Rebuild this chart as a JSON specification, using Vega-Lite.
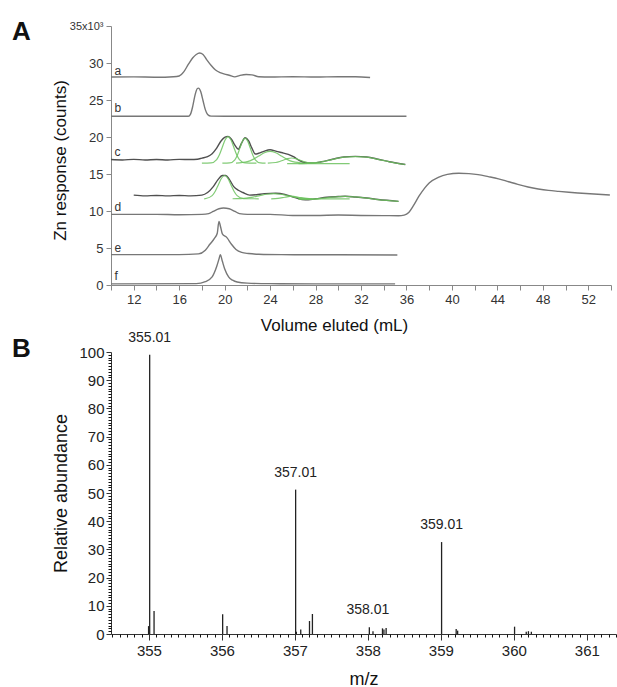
{
  "$schema": "https://vega.github.io/schema/vega-lite/v6.json",
  "padding": {"left": 12, "top": 19, "right": 0, "bottom": 0},
  "bounds": "flush",
  "spacing": 67,
  "config": {"font": "Liberation Sans", "view": {"stroke": null}, "axis": {"grid": false}},
  "datasets": {
    "traces": [
      {"series":"a","x":10,"y":28100},{"series":"a","x":12,"y":28120},{"series":"a","x":14,"y":28080},{"series":"a","x":15.5,"y":28150},{"series":"a","x":16.0,"y":28250},{"series":"a","x":16.4,"y":28800},{"series":"a","x":16.8,"y":29800},{"series":"a","x":17.2,"y":30700},{"series":"a","x":17.5,"y":31150},{"series":"a","x":17.8,"y":31350},{"series":"a","x":18.1,"y":31150},{"series":"a","x":18.4,"y":30500},{"series":"a","x":18.8,"y":29700},{"series":"a","x":19.2,"y":29050},{"series":"a","x":19.6,"y":28700},{"series":"a","x":20.0,"y":28500},{"series":"a","x":20.4,"y":28350},{"series":"a","x":20.9,"y":28130},{"series":"a","x":21.3,"y":28300},{"series":"a","x":21.9,"y":28450},{"series":"a","x":22.4,"y":28400},{"series":"a","x":23.0,"y":28150},{"series":"a","x":24,"y":28100},{"series":"a","x":26,"y":28150},{"series":"a","x":28,"y":28100},{"series":"a","x":30,"y":28150},{"series":"a","x":31.5,"y":28150},{"series":"a","x":32.8,"y":28050},
      {"series":"b","x":10,"y":22800},{"series":"b","x":16.8,"y":22800},{"series":"b","x":17.0,"y":23100},{"series":"b","x":17.2,"y":24200},{"series":"b","x":17.4,"y":25700},{"series":"b","x":17.6,"y":26550},{"series":"b","x":17.7,"y":26600},{"series":"b","x":17.9,"y":26100},{"series":"b","x":18.1,"y":24900},{"series":"b","x":18.3,"y":23700},{"series":"b","x":18.5,"y":23050},{"series":"b","x":18.8,"y":22820},{"series":"b","x":20,"y":22800},{"series":"b","x":36,"y":22800},
      {"series":"c","x":10,"y":16950},{"series":"c","x":11,"y":16900},{"series":"c","x":12,"y":16980},{"series":"c","x":13,"y":16900},{"series":"c","x":14,"y":16950},{"series":"c","x":15,"y":16900},{"series":"c","x":16,"y":16980},{"series":"c","x":17,"y":16950},{"series":"c","x":17.6,"y":17000},{"series":"c","x":18.0,"y":17150},{"series":"c","x":18.5,"y":17350},{"series":"c","x":18.9,"y":17750},{"series":"c","x":19.3,"y":18500},{"series":"c","x":19.7,"y":19500},{"series":"c","x":20.0,"y":19950},{"series":"c","x":20.3,"y":20080},{"series":"c","x":20.6,"y":19700},{"series":"c","x":20.9,"y":18900},{"series":"c","x":21.2,"y":18350},{"series":"c","x":21.5,"y":19200},{"series":"c","x":21.8,"y":19900},{"series":"c","x":22.1,"y":19500},{"series":"c","x":22.4,"y":18500},{"series":"c","x":22.7,"y":17700},{"series":"c","x":23.0,"y":17800},{"series":"c","x":23.5,"y":18100},{"series":"c","x":24.0,"y":18270},{"series":"c","x":24.5,"y":18100},{"series":"c","x":25.0,"y":17900},{"series":"c","x":25.6,"y":17650},{"series":"c","x":26.1,"y":17300},{"series":"c","x":26.6,"y":16800},{"series":"c","x":27.0,"y":16550},{"series":"c","x":27.7,"y":16480},{"series":"c","x":28.5,"y":16650},{"series":"c","x":29.5,"y":17000},{"series":"c","x":30.5,"y":17300},{"series":"c","x":31.5,"y":17380},{"series":"c","x":32.5,"y":17300},{"series":"c","x":33.5,"y":17000},{"series":"c","x":34.5,"y":16650},{"series":"c","x":35.9,"y":16280},
      {"series":"dup","x":12.0,"y":12150},{"series":"dup","x":13,"y":12050},{"series":"dup","x":14,"y":12100},{"series":"dup","x":15,"y":12050},{"series":"dup","x":16,"y":12100},{"series":"dup","x":17,"y":12050},{"series":"dup","x":18,"y":12150},{"series":"dup","x":18.5,"y":12500},{"series":"dup","x":19.0,"y":13300},{"series":"dup","x":19.4,"y":14200},{"series":"dup","x":19.8,"y":14800},{"series":"dup","x":20.1,"y":14800},{"series":"dup","x":20.4,"y":14300},{"series":"dup","x":20.8,"y":13300},{"series":"dup","x":21.2,"y":12800},{"series":"dup","x":21.6,"y":12500},{"series":"dup","x":22.2,"y":12150},{"series":"dup","x":22.8,"y":12200},{"series":"dup","x":23.5,"y":12350},{"series":"dup","x":24.5,"y":12400},{"series":"dup","x":25.3,"y":12250},{"series":"dup","x":26.2,"y":11800},{"series":"dup","x":27.1,"y":11500},{"series":"dup","x":28,"y":11650},{"series":"dup","x":29,"y":11850},{"series":"dup","x":30,"y":11950},{"series":"dup","x":30.6,"y":12000},{"series":"dup","x":31.5,"y":11900},{"series":"dup","x":32.5,"y":11750},{"series":"dup","x":33.5,"y":11550},{"series":"dup","x":35.3,"y":11300},
      {"series":"d","x":10,"y":9550},{"series":"d","x":12,"y":9550},{"series":"d","x":14,"y":9550},{"series":"d","x":16,"y":9500},{"series":"d","x":18,"y":9550},{"series":"d","x":18.6,"y":9650},{"series":"d","x":19.0,"y":9950},{"series":"d","x":19.5,"y":10300},{"series":"d","x":19.9,"y":10400},{"series":"d","x":20.4,"y":10300},{"series":"d","x":20.9,"y":9950},{"series":"d","x":21.3,"y":9650},{"series":"d","x":22,"y":9550},{"series":"d","x":24,"y":9550},{"series":"d","x":26,"y":9400},{"series":"d","x":28,"y":9400},{"series":"d","x":30,"y":9450},{"series":"d","x":32,"y":9400},{"series":"d","x":34,"y":9380},{"series":"d","x":35.3,"y":9360},{"series":"d","x":35.8,"y":9450},{"series":"d","x":36.2,"y":9800},{"series":"d","x":36.6,"y":10700},{"series":"d","x":37.1,"y":12000},{"series":"d","x":37.6,"y":13100},{"series":"d","x":38.0,"y":13800},{"series":"d","x":38.8,"y":14550},{"series":"d","x":39.6,"y":14950},{"series":"d","x":40.6,"y":15100},{"series":"d","x":41.5,"y":15050},{"series":"d","x":42.3,"y":14920},{"series":"d","x":43.2,"y":14650},{"series":"d","x":44.1,"y":14350},{"series":"d","x":45,"y":13950},{"series":"d","x":45.8,"y":13600},{"series":"d","x":46.7,"y":13250},{"series":"d","x":47.6,"y":12980},{"series":"d","x":48.5,"y":12780},{"series":"d","x":49.4,"y":12650},{"series":"d","x":50.3,"y":12530},{"series":"d","x":51.1,"y":12440},{"series":"d","x":52.5,"y":12300},{"series":"d","x":53.9,"y":12170},
      {"series":"e","x":10,"y":4100},{"series":"e","x":16,"y":4100},{"series":"e","x":17.7,"y":4200},{"series":"e","x":18.3,"y":4700},{"series":"e","x":18.7,"y":5500},{"series":"e","x":19.1,"y":6300},{"series":"e","x":19.35,"y":7000},{"series":"e","x":19.5,"y":8600},{"series":"e","x":19.65,"y":7800},{"series":"e","x":19.8,"y":6900},{"series":"e","x":20.2,"y":6400},{"series":"e","x":20.6,"y":5500},{"series":"e","x":21.0,"y":4800},{"series":"e","x":21.5,"y":4400},{"series":"e","x":22.1,"y":4250},{"series":"e","x":23,"y":4150},{"series":"e","x":25,"y":4100},{"series":"e","x":30,"y":4080},{"series":"e","x":35.2,"y":4050},
      {"series":"f","x":10,"y":150},{"series":"f","x":17.5,"y":180},{"series":"f","x":18.3,"y":450},{"series":"f","x":18.9,"y":1100},{"series":"f","x":19.3,"y":2500},{"series":"f","x":19.5,"y":3500},{"series":"f","x":19.62,"y":4100},{"series":"f","x":19.8,"y":3200},{"series":"f","x":20.0,"y":2200},{"series":"f","x":20.35,"y":1100},{"series":"f","x":20.7,"y":650},{"series":"f","x":21.1,"y":400},{"series":"f","x":22,"y":250},{"series":"f","x":24,"y":180},{"series":"f","x":28,"y":150},{"series":"f","x":35,"y":150}
    ],
    "fits": [
      {"comp":"cg1","x":18.0,"y":16460},{"comp":"cg1","x":18.8,"y":16500},{"comp":"cg1","x":19.3,"y":16950},{"comp":"cg1","x":19.55,"y":17630},{"comp":"cg1","x":19.8,"y":18645},{"comp":"cg1","x":20.05,"y":19635},{"comp":"cg1","x":20.3,"y":20060},{"comp":"cg1","x":20.55,"y":19635},{"comp":"cg1","x":20.8,"y":18645},{"comp":"cg1","x":21.05,"y":17630},{"comp":"cg1","x":21.3,"y":16950},{"comp":"cg1","x":21.8,"y":16500},{"comp":"cg1","x":22.8,"y":16460},
      {"comp":"cg2","x":19.8,"y":16460},{"comp":"cg2","x":20.45,"y":16500},{"comp":"cg2","x":20.9,"y":16920},{"comp":"cg2","x":21.125,"y":17565},{"comp":"cg2","x":21.35,"y":18525},{"comp":"cg2","x":21.575,"y":19460},{"comp":"cg2","x":21.8,"y":19860},{"comp":"cg2","x":22.025,"y":19460},{"comp":"cg2","x":22.25,"y":18525},{"comp":"cg2","x":22.475,"y":17565},{"comp":"cg2","x":22.7,"y":16920},{"comp":"cg2","x":23.15,"y":16500},{"comp":"cg2","x":23.6,"y":16460},
      {"comp":"cg3","x":21.0,"y":16480},{"comp":"cg3","x":22.0,"y":16675},{"comp":"cg3","x":22.5,"y":16980},{"comp":"cg3","x":23.0,"y":17430},{"comp":"cg3","x":23.5,"y":17870},{"comp":"cg3","x":24.0,"y":18060},{"comp":"cg3","x":24.5,"y":17870},{"comp":"cg3","x":25.0,"y":17430},{"comp":"cg3","x":25.5,"y":16980},{"comp":"cg3","x":26.0,"y":16675},{"comp":"cg3","x":27.0,"y":16480},
      {"comp":"cg4","x":23.8,"y":16470},{"comp":"cg4","x":24.5,"y":16555},{"comp":"cg4","x":24.85,"y":16690},{"comp":"cg4","x":25.2,"y":16885},{"comp":"cg4","x":25.55,"y":17080},{"comp":"cg4","x":25.9,"y":17160},{"comp":"cg4","x":26.25,"y":17080},{"comp":"cg4","x":26.6,"y":16885},{"comp":"cg4","x":26.95,"y":16690},{"comp":"cg4","x":27.3,"y":16555},{"comp":"cg4","x":28.0,"y":16470},
      {"comp":"cg5","x":26.5,"y":16400},{"comp":"cg5","x":27.5,"y":16470},{"comp":"cg5","x":28.5,"y":16650},{"comp":"cg5","x":29.5,"y":16980},{"comp":"cg5","x":30.5,"y":17280},{"comp":"cg5","x":31.5,"y":17360},{"comp":"cg5","x":32.5,"y":17280},{"comp":"cg5","x":33.5,"y":16980},{"comp":"cg5","x":34.5,"y":16650},{"comp":"cg5","x":35.9,"y":16280},
      {"comp":"cg5b","x":25.5,"y":16400},{"comp":"cg5b","x":31.0,"y":16400},
      {"comp":"dg1","x":18.2,"y":11650},{"comp":"dg1","x":18.35,"y":11685},{"comp":"dg1","x":18.9,"y":12075},{"comp":"dg1","x":19.175,"y":12675},{"comp":"dg1","x":19.45,"y":13560},{"comp":"dg1","x":19.725,"y":14430},{"comp":"dg1","x":20.0,"y":14800},{"comp":"dg1","x":20.275,"y":14430},{"comp":"dg1","x":20.55,"y":13560},{"comp":"dg1","x":20.825,"y":12675},{"comp":"dg1","x":21.1,"y":12075},{"comp":"dg1","x":21.65,"y":11685},{"comp":"dg1","x":23.0,"y":11650},
      {"comp":"dg2","x":20.7,"y":11658},{"comp":"dg2","x":21.9,"y":11745},{"comp":"dg2","x":22.5,"y":11877},{"comp":"dg2","x":23.1,"y":12075},{"comp":"dg2","x":23.7,"y":12267},{"comp":"dg2","x":24.3,"y":12350},{"comp":"dg2","x":24.9,"y":12267},{"comp":"dg2","x":25.5,"y":12075},{"comp":"dg2","x":26.1,"y":11877},{"comp":"dg2","x":26.7,"y":11745},{"comp":"dg2","x":27.5,"y":11660},
      {"comp":"dg3","x":24.1,"y":11650},{"comp":"dg3","x":24.7,"y":11710},{"comp":"dg3","x":25.3,"y":11860},{"comp":"dg3","x":25.9,"y":12000},{"comp":"dg3","x":26.5,"y":11860},{"comp":"dg3","x":27.1,"y":11710},{"comp":"dg3","x":27.7,"y":11650},
      {"comp":"dg4","x":26.5,"y":11600},{"comp":"dg4","x":27.5,"y":11560},{"comp":"dg4","x":28.5,"y":11700},{"comp":"dg4","x":29.5,"y":11880},{"comp":"dg4","x":30.6,"y":11980},{"comp":"dg4","x":31.5,"y":11900},{"comp":"dg4","x":32.5,"y":11750},{"comp":"dg4","x":33.5,"y":11550},{"comp":"dg4","x":35.3,"y":11300},
      {"comp":"dg4b","x":26.5,"y":11650},{"comp":"dg4b","x":31.0,"y":11650}
    ],
    "tracelabels": [
      {"label":"a","x":10.3,"y":28950},{"label":"b","x":10.3,"y":23870},{"label":"c","x":10.3,"y":17970},{"label":"d","x":10.3,"y":10540},{"label":"e","x":10.3,"y":5000},{"label":"f","x":10.3,"y":1215}
    ],
    "spectrum": [
      {"mz":354.995,"ab":2.8},{"mz":355.01,"ab":99},{"mz":355.07,"ab":8.2},{"mz":356.01,"ab":7},{"mz":356.07,"ab":2.8},{"mz":357.01,"ab":51.2},{"mz":357.02,"ab":0.8},{"mz":357.08,"ab":1.6},{"mz":357.2,"ab":4.6},{"mz":357.24,"ab":7.1},{"mz":358.02,"ab":2.4},{"mz":358.07,"ab":1},{"mz":358.2,"ab":2},{"mz":358.22,"ab":1.6},{"mz":358.25,"ab":2.1},{"mz":359.01,"ab":32.6},{"mz":359.21,"ab":1.8},{"mz":359.23,"ab":1.2},{"mz":360.01,"ab":2.6},{"mz":360.17,"ab":0.8},{"mz":360.2,"ab":1.0},{"mz":360.24,"ab":0.8}
    ],
    "peaklabels": [
      {"label":"355.01","mz":355.01,"ab":99},{"label":"357.01","mz":357.01,"ab":51.2},{"label":"358.01","mz":358.0,"ab":2.4},{"label":"359.01","mz":359.01,"ab":32.6}
    ]
  },
  "vconcat": [
    {
      "width": 500,
      "height": 259,
      "title": {"text": "A", "anchor": "start", "frame": "group", "orient": "top", "fontSize": 26, "fontWeight": "bold", "color": "#111", "dx": -99, "offset": -46, "baseline": "alphabetic"},
      "layer": [
        {
          "data": {"name": "traces"},
          "mark": {"type": "line", "strokeWidth": 1.4, "interpolate": "monotone"},
          "encoding": {
            "x": {"field": "x", "type": "quantitative", "scale": {"domain": [10, 54], "nice": false, "zero": false},
              "axis": {"title": "Volume eluted (mL)", "values": [10,12,14,16,18,20,22,24,26,28,30,32,34,36,38,40,42,44,46,48,50,52,54], "tickCount": 100, "format": "d",
                "labelExpr": "datum.value % 4 == 0 ? datum.label : ''", "labelOverlap": false, "labelFlush": false,
                "domainColor": "#888", "tickColor": "#888", "tickSize": 5, "labelFontSize": 13, "labelColor": "#333", "labelPadding": 3,
                "titleFontSize": 17, "titleFontWeight": "normal", "titleColor": "#111", "titleX": 223, "titleY": 40, "titleBaseline": "middle", "titleAlign": "center"}},
            "y": {"field": "y", "type": "quantitative", "scale": {"domain": [0, 35000], "nice": false},
              "axis": {"title": "Zn response (counts)", "values": [0,5000,10000,15000,20000,25000,30000,35000], "tickCount": 100,
                "labelExpr": "datum.value == 35000 ? '35x10³' : format(datum.value/1000, 'd')",
                "labelFontSize": {"condition": {"test": "datum.value == 35000", "value": 11}, "value": 13},
                "labelOverlap": false, "labelFlush": false,
                "domainColor": "#888", "tickColor": "#888", "tickSize": 5, "labelColor": "#333", "labelPadding": 3,
                "titleFontSize": 17, "titleFontWeight": "normal", "titleColor": "#111", "titleX": -51, "titleY": 134, "titleBaseline": "middle", "titleAlign": "center"}},
            "color": {"field": "series", "type": "nominal", "scale": {"domain": ["a","b","c","dup","d","e","f"], "range": ["#777777","#777777","#505050","#505050","#777777","#777777","#777777"]}, "legend": null}
          }
        },
        {
          "data": {"name": "fits"},
          "mark": {"type": "line", "strokeWidth": 1.2, "color": "#6cc25e", "opacity": 0.85, "interpolate": "monotone"},
          "encoding": {
            "x": {"field": "x", "type": "quantitative"},
            "y": {"field": "y", "type": "quantitative"},
            "detail": {"field": "comp", "type": "nominal"}
          }
        },
        {
          "data": {"name": "tracelabels"},
          "mark": {"type": "text", "align": "left", "baseline": "middle", "fontSize": 12, "color": "#333"},
          "encoding": {
            "x": {"field": "x", "type": "quantitative"},
            "y": {"field": "y", "type": "quantitative"},
            "text": {"field": "label"}
          }
        }
      ]
    },
    {
      "width": 505,
      "height": 282,
      "title": {"text": "B", "anchor": "start", "frame": "group", "orient": "top", "fontSize": 26, "fontWeight": "bold", "color": "#111", "dx": -99, "offset": -52, "baseline": "alphabetic"},
      "layer": [
        {
          "data": {"name": "spectrum"},
          "mark": {"type": "rule", "color": "#222", "strokeWidth": 1.3},
          "encoding": {
            "x": {"field": "mz", "type": "quantitative", "scale": {"domain": [354.48, 361.4], "nice": false, "zero": false},
              "axis": {"orient": "bottom", "title": "m/z", "values": [355,356,357,358,359,360,361], "tickCount": 100, "format": "d", "labelFlush": false,
                "domainColor": "#333", "tickColor": "#333", "tickSize": 6, "labelFontSize": 15, "labelColor": "#222", "labelPadding": 3,
                "titleFontSize": 18, "titleFontWeight": "normal", "titleColor": "#111", "titleY": 45, "titleBaseline": "middle"}},
            "y": {"field": "ab", "type": "quantitative", "scale": {"domain": [0, 100], "nice": false},
              "axis": {"orient": "left", "title": "Relative abundance", "values": [0,10,20,30,40,50,60,70,80,90,100], "tickCount": 100, "labelFlush": false,
                "domainColor": "#333", "tickColor": "#333", "tickSize": 5, "labelFontSize": 15, "labelColor": "#222", "labelPadding": 2,
                "titleFontSize": 18, "titleFontWeight": "normal", "titleColor": "#111", "titleX": -50, "titleBaseline": "middle"}},
            "y2": {"datum": 0}
          }
        },
        {
          "data": {"name": "peaklabels"},
          "mark": {"type": "text", "dy": -17, "fontSize": 14, "color": "#222", "baseline": "middle"},
          "encoding": {
            "x": {"field": "mz", "type": "quantitative", "axis": null},
            "y": {"field": "ab", "type": "quantitative", "axis": null},
            "text": {"field": "label"}
          }
        },
        {
          "data": {"name": "spectrum"},
          "mark": {"type": "point", "opacity": 0},
          "encoding": {
            "x": {"field": "mz", "type": "quantitative",
              "axis": {"orient": "bottom", "tickCount": 200, "labels": false, "domain": false, "title": null, "tickSize": 3, "tickWidth": 1, "tickColor": "#111", "zindex": 2,
                "values": [354.5,354.6,354.7,354.8,354.9,355.1,355.2,355.3,355.4,355.5,355.6,355.7,355.8,355.9,356.1,356.2,356.3,356.4,356.5,356.6,356.7,356.8,356.9,357.1,357.2,357.3,357.4,357.5,357.6,357.7,357.8,357.9,358.1,358.2,358.3,358.4,358.5,358.6,358.7,358.8,358.9,359.1,359.2,359.3,359.4,359.5,359.6,359.7,359.8,359.9,360.1,360.2,360.3,360.4,360.5,360.6,360.7,360.8,360.9,361.1,361.2,361.3,361.4]}},
            "y": {"field": "ab", "type": "quantitative",
              "axis": {"orient": "left", "tickCount": 200, "labels": false, "domain": false, "title": null, "tickSize": 3, "tickWidth": 1, "tickColor": "#111", "zindex": 2,
                "values": [1,2,3,4,5,6,7,8,9,11,12,13,14,15,16,17,18,19,21,22,23,24,25,26,27,28,29,31,32,33,34,35,36,37,38,39,41,42,43,44,45,46,47,48,49,51,52,53,54,55,56,57,58,59,61,62,63,64,65,66,67,68,69,71,72,73,74,75,76,77,78,79,81,82,83,84,85,86,87,88,89,91,92,93,94,95,96,97,98,99]}}
          }
        }
      ],
      "resolve": {"axis": {"x": "independent", "y": "independent"}}
    }
  ]
}
